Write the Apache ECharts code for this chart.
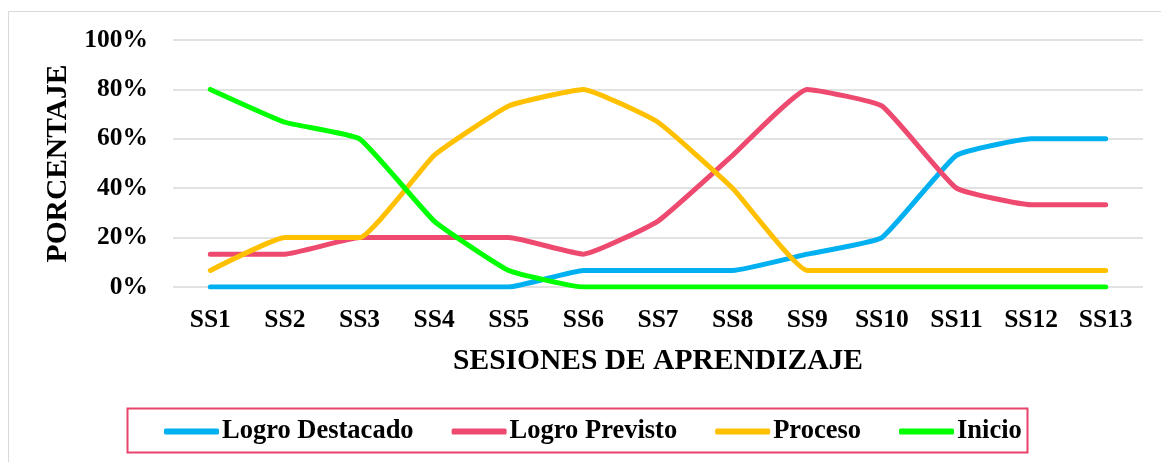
<!DOCTYPE html>
<html>
<head>
<meta charset="utf-8">
<script src="https://cdn.jsdelivr.net/npm/echarts@6/dist/echarts.min.js"></script>
<style>
  html, body { margin: 0; padding: 0; background: #fff; }
  #chart { width: 1161px; height: 462px; }
</style>
</head>
<body>
<div id="chart"></div>
<script>
const sessions = ["SS1", "SS2", "SS3", "SS4", "SS5", "SS6", "SS7", "SS8", "SS9", "SS10", "SS11", "SS12", "SS13"];
const logroDestacado = [0, 0, 0, 0, 0, 6.7, 6.7, 6.7, 13.3, 20, 53.3, 60, 60];
const logroPrevisto = [13.3, 13.3, 20, 20, 20, 13.3, 26.7, 53.3, 80, 73.3, 40, 33.3, 33.3];
const proceso = [6.7, 20, 20, 53.3, 73.3, 80, 66.7, 40, 6.7, 6.7, 6.7, 6.7, 6.7];
const inicio = [80, 66.7, 60, 26.7, 6.7, 0, 0, 0, 0, 0, 0, 0, 0];

const font = "'Liberation Serif', 'Times New Roman', serif";

function line(name, data, color) {
  return {
    name,
    type: "line",
    data,
    smooth: 0.12,
    showSymbol: false,
    symbol: "none",
    lineStyle: { color, width: 5, cap: "round", join: "round" },
    itemStyle: { color },
  };
}

const chart = echarts.init(document.getElementById("chart"));
chart.setOption({
  animation: false,
  textStyle: { fontFamily: font },
  graphic: [
    {
      type: "rect",
      shape: { x: 8.5, y: 11.5, width: 1170, height: 480 },
      style: { fill: "none", stroke: "#d9d9d9", lineWidth: 1 },
    },
    {
      type: "rect",
      shape: { x: 127.5, y: 408.5, width: 900, height: 44 },
      style: { fill: "none", stroke: "#e8436a", lineWidth: 2 },
    },
  ],
  grid: { left: 173, right: 18, top: 40, bottom: 175 },
  legend: {
    left: 159,
    top: 413,
    itemWidth: 55,
    itemHeight: 6,
    itemGap: 38,
    icon: "roundRect",
    textStyle: { fontFamily: font, fontWeight: "bold", fontSize: 26.5, color: "#000", padding: [0, 0, 0, -2] },
    data: ["Logro Destacado", "Logro Previsto", "Proceso", "Inicio"],
  },
  xAxis: {
    type: "category",
    data: sessions,
    boundaryGap: true,
    axisLine: { show: false },
    axisTick: { show: false },
    axisLabel: { fontFamily: font, fontWeight: "bold", fontSize: 25.5, color: "#000", margin: 20 },
    name: "SESIONES DE APRENDIZAJE",
    nameLocation: "middle",
    nameGap: 59,
    nameTextStyle: { fontFamily: font, fontWeight: "bold", fontSize: 29.5, color: "#000" },
  },
  yAxis: {
    type: "value",
    min: 0,
    max: 100,
    interval: 20,
    axisLine: { show: false },
    axisTick: { show: false },
    axisLabel: { formatter: "{value}%", fontFamily: font, fontWeight: "bold", fontSize: 25.5, color: "#000", margin: 25 },
    splitLine: { lineStyle: { color: "#d9d9d9", width: 1.5 } },
    name: "PORCENTAJE",
    nameLocation: "middle",
    nameGap: 98,
    nameRotate: 90,
    nameTextStyle: { fontFamily: font, fontWeight: "bold", fontSize: 29.5, color: "#000" },
  },
  series: [
    line("Logro Destacado", logroDestacado, "#00b0f0"),
    line("Logro Previsto", logroPrevisto, "#ee4a70"),
    line("Proceso", proceso, "#ffc000"),
    line("Inicio", inicio, "#00ff00"),
  ],
});
</script>
</body>
</html>
